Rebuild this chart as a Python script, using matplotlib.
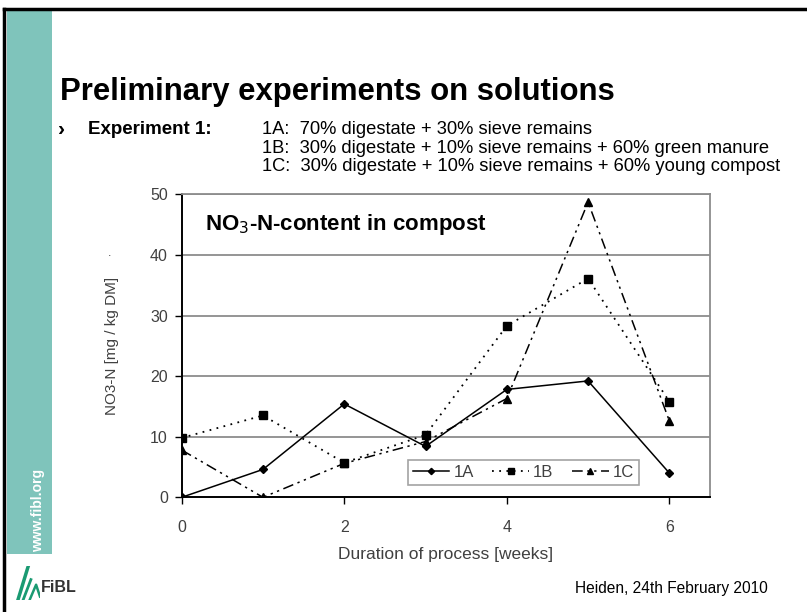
import numpy as np
import matplotlib
matplotlib.use("Agg")
import matplotlib.pyplot as plt
from matplotlib.patches import Rectangle
from matplotlib.lines import Line2D

## donnees
semaines = [0, 1, 2, 3, 4, 5, 6]
no3_1A = [0.0, 4.6, 15.4, 8.4, 17.8, 19.2, 4.0]
no3_1B = [9.8, 13.5, 5.7, 10.3, 28.3, 36.1, 15.8]
no3_1C = [7.8, 0.0, 5.6, 9.2, 16.3, 48.7, 12.6]
noms = ["1A", "1B", "1C"]
yticks = [0, 10, 20, 30, 40, 50]
xticks = [0, 2, 4, 6]

plt.rcParams['font.family'] = ['Liberation Sans', 'DejaVu Sans']

W, H = 807, 612
fig = plt.figure(figsize=(W/100, H/100), dpi=100)

def px(x, y):
    # pixels -> coordonnees figure
    return x/W, 1 - y/H

##cadre de la diapo
teal = "#7fc4bb"
fig.patches.append(Rectangle(px(7, 554), 45/W, (554-10)/H, transform=fig.transFigure,
                             facecolor=teal, edgecolor="none", zorder=0))
fig.add_artist(Line2D([4/W, 4/W], [0, 1 - 9/H], color="black", lw=2.5, transform=fig.transFigure))
fig.add_artist(Line2D([4/W, 1], [1 - 9/H, 1 - 9/H], color="black", lw=2.5, transform=fig.transFigure))

fig.text(*px(38, 510), "www.fibl.org", rotation=90, color="white", fontsize=10,
         fontweight="bold", ha="center", va="center")

##titres
fig.text(*px(60, 92), "Preliminary experiments on solutions", fontsize=22.4,
         fontweight="bold", ha="left", va="center")
fig.text(*px(58, 130), "\u203a", fontsize=15, fontweight="bold", ha="left", va="center")
fig.text(*px(88, 130), "Experiment 1:", fontsize=13.5, fontweight="bold", ha="left", va="center")
lignes = ["1A:  70% digestate + 30% sieve remains",
          "1B:  30% digestate + 10% sieve remains + 60% green manure",
          "1C:  30% digestate + 10% sieve remains + 60% young compost"]
for i, l in enumerate(lignes):
    fig.text(*px(262, 130 + 18.5*i), l, fontsize=13.2, ha="left", va="center")

##graphique
x0, x1 = 181.7, 710
yb, yt = 497.3, 194.3
ax = fig.add_axes([x0/W, 1 - yb/H, (x1-x0)/W, (yb-yt)/H])

ax.plot(semaines, no3_1A, color="black", lw=1.1, marker="D", markersize=4, label=noms[0])
ax.plot(semaines, no3_1B, color="black", lw=1.3, ls=(0, (1, 3)), marker="s", markersize=6, label=noms[1])
ax.plot(semaines, no3_1C, color="black", lw=1.1, ls=(0, (7, 3, 1.5, 3, 1.5, 3)), marker="^",
        markersize=6, label=noms[2])

ax.set_xlim(0, 6.5)
ax.set_ylim(0, 50)
ax.set_xticks(xticks)
ax.set_yticks(yticks)
for y in yticks[1:]:
    ax.axhline(y, color="#8c8c8c", lw=1.3, zorder=0)
ax.tick_params(axis="both", direction="out", length=5, width=1, colors="black",
               labelcolor="#404040", labelsize=11.5)
ax.tick_params(axis="x", pad=11)
ax.tick_params(axis="y", pad=5)
for s in ["left", "bottom"]:
    ax.spines[s].set_color("black")
    ax.spines[s].set_linewidth(1.4)
for s in ["top", "right"]:
    ax.spines[s].set_color("#8c8c8c")
    ax.spines[s].set_linewidth(1.3)

ax.set_xlabel("Duration of process [weeks]", fontsize=12.5, color="#404040", labelpad=9)
ax.set_ylabel("NO3-N [mg / kg DM]", fontsize=11, color="#404040", labelpad=22)
fig.text(*px(110, 253), ".", fontsize=9, color="#404040", ha="center", va="center")
ax.text(0.045, 0.9, "NO$_3$-N-content in compost", transform=ax.transAxes,
        fontsize=16, fontweight="bold", ha="left", va="center")

leg = ax.legend(loc="lower right", bbox_to_anchor=(0.8656, 0.041), ncol=3, fontsize=12,
                frameon=True, fancybox=False, edgecolor="#8c8c8c", handlelength=2.2,
                columnspacing=1.1, handletextpad=0.25, borderpad=0.3, borderaxespad=0,
                markerscale=0.8)
leg.get_frame().set_linewidth(1.2)
for t in leg.get_texts():
    t.set_color("#404040")

##pied de page
fig.text(*px(575, 589), "Heiden, 24th February 2010", fontsize=11.2, ha="left", va="center")
fig.text(*px(41, 588), "FiBL", fontsize=11.5, fontweight="bold", color="#333333", ha="left", va="center")
logo = fig.add_axes([14/W, 1 - 600/H, 26/W, 34/H])
logo.axis("off")
logo.plot([0.15, 0.55], [0.0, 1.0], color="#1a9a72", lw=2.5)
logo.plot([0.35, 0.65], [0.0, 0.6], color="#1a9a72", lw=2)
logo.plot([0.6, 0.85, 1.0], [0.0, 0.45, 0.1], color="#1a9a72", lw=1.8)
logo.set_xlim(0, 1)
logo.set_ylim(0, 1)

fig.savefig("out.png", dpi=100)
